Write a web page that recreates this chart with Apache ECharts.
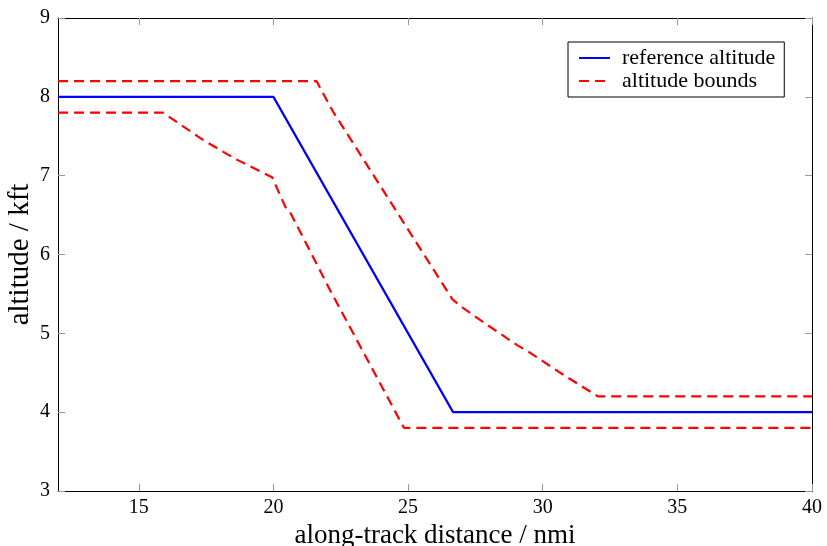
<!DOCTYPE html>
<html>
<head>
<meta charset="utf-8">
<script src="https://cdn.jsdelivr.net/npm/echarts@6/dist/echarts.min.js"></script>
<style>html,body{margin:0;padding:0;background:#fff;}#c{width:827px;height:546px;}</style>
</head>
<body>
<div id="c"></div>
<script>
var xTicks = [15, 20, 25, 30, 35, 40];
var yTicks = [3, 4, 5, 6, 7, 8, 9];
var refX = [12, 20, 26.67, 40];
var refY = [8, 8, 4, 4];
var upperX = [12, 21.6, 22.2, 26.65, 27.05, 27.8, 29.05, 29.55, 30.65, 32.05, 40];
var upperY = [8.2, 8.2, 7.82, 5.43, 5.32, 5.14, 4.85, 4.75, 4.5, 4.2, 4.2];
var lowerX = [12, 15.9, 17.4, 18.6, 19.95, 20.45, 20.6, 22.1, 24.85, 40];
var lowerY = [7.8, 7.8, 7.45, 7.21, 6.98, 6.6, 6.55, 5.55, 3.8, 3.8];

function pairs(xs, ys) { return xs.map(function (x, i) { return [x, ys[i]]; }); }

var font = 'Liberation Serif';
var tickStyle = { show: true, inside: true, length: 7, lineStyle: { color: '#999', width: 1 } };
var lineStyleAxis = { show: true, lineStyle: { color: '#000', width: 1 } };

var chart = echarts.init(document.getElementById('c'), null, { renderer: 'canvas' });
chart.setOption({
  animation: false,
  backgroundColor: '#fff',
  grid: { left: 58, right: 15, top: 18, bottom: 55, containLabel: false, outerBoundsMode: 'none' },
  xAxis: [{
    type: 'value', min: 12, max: 40, position: 'bottom',
    name: 'along-track distance / nmi', nameLocation: 'middle', nameGap: 31,
    nameTextStyle: { fontFamily: font, fontSize: 27, color: '#000' },
    axisLine: lineStyleAxis,
    axisTick: Object.assign({}, tickStyle, { customValues: xTicks }),
    axisLabel: { customValues: xTicks, fontFamily: font, fontSize: 20, color: '#000', margin: 7 },
    splitLine: { show: false }
  }, {
    type: 'value', min: 12, max: 40, position: 'top',
    axisLine: lineStyleAxis,
    axisTick: Object.assign({}, tickStyle, { customValues: xTicks }),
    axisLabel: { show: false },
    splitLine: { show: false }
  }],
  yAxis: [{
    type: 'value', min: 3, max: 9, interval: 1, position: 'left',
    name: 'altitude / kft', nameLocation: 'middle', nameGap: 23, nameMoveOverlap: false,
    nameTextStyle: { fontFamily: font, fontSize: 29, color: '#000' },
    axisLine: lineStyleAxis,
    axisTick: tickStyle,
    axisLabel: { fontFamily: font, fontSize: 20, color: '#000', margin: 8 },
    splitLine: { show: false }
  }, {
    type: 'value', min: 3, max: 9, interval: 1, position: 'right',
    axisLine: lineStyleAxis,
    axisTick: tickStyle,
    axisLabel: { show: false },
    splitLine: { show: false }
  }],
  legend: {
    orient: 'vertical', left: 568, top: 42,
    backgroundColor: '#fff', borderColor: '#000', borderWidth: 1, borderRadius: 0,
    padding: [5, 9, 5, 10], itemGap: 1, itemWidth: 31, itemHeight: 14,
    itemStyle: { opacity: 0 },
    textStyle: { fontFamily: font, fontSize: 22, color: '#000', padding: [0, 0, 0, 7] },
    data: ['reference altitude', 'altitude bounds']
  },
  series: [{
    name: 'reference altitude', type: 'line', data: pairs(refX, refY),
    symbol: 'none', clip: true,
    lineStyle: { color: '#0000ff', width: 2.2 }, itemStyle: { color: '#0000ff' }
  }, {
    name: 'altitude bounds', type: 'line', data: pairs(upperX, upperY),
    symbol: 'none', clip: true,
    lineStyle: { color: '#ff0000', width: 2.2, type: [10, 6] }, itemStyle: { color: '#ff0000' }
  }, {
    name: 'altitude bounds', type: 'line', data: pairs(lowerX, lowerY),
    symbol: 'none', clip: true,
    lineStyle: { color: '#ff0000', width: 2.2, type: [10, 6] }, itemStyle: { color: '#ff0000' }
  }]
});
</script>
</body>
</html>
